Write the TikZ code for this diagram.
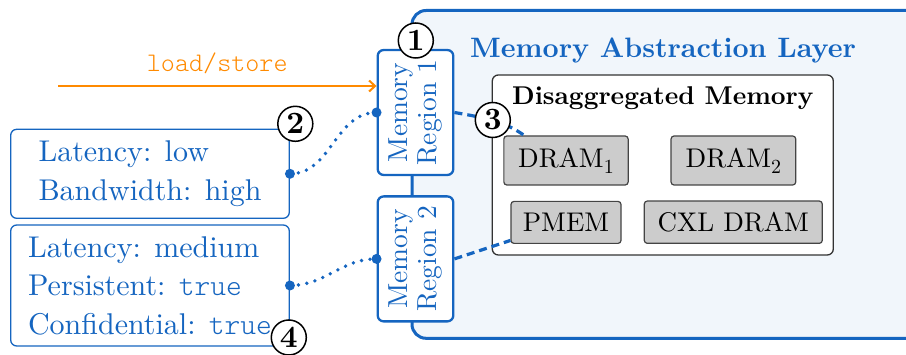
\documentclass[tikz,border=0pt]{standalone}
\usepackage{fontspec}
\setmainfont{lmroman10-regular}[Extension=.otf, BoldFont=lmroman10-bold]
\setmonofont{lmmonolt10-regular}[Extension=.otf]
\usetikzlibrary{arrows.meta,calc}

\definecolor{mablue}{HTML}{1565C0}
\definecolor{layerfill}{HTML}{F1F6FB}
\definecolor{loadorange}{HTML}{FF8A00}
\definecolor{devgray}{HTML}{CCCCCC}
\definecolor{devline}{HTML}{444444}
\definecolor{poolline}{HTML}{333333}

\begin{document}
\begin{tikzpicture}[x=1pt,y=-1pt,
  layer/.style={draw=mablue, line width=3pt, fill=layerfill, rounded corners=14pt},
  region/.style={draw=mablue, line width=2.3pt, fill=white, rounded corners=6pt,
    rotate=90, minimum width=125pt, minimum height=75.6pt, inner sep=0pt,
    align=center, text=mablue, font=\fontsize{27.5}{29}\selectfont},
  attr/.style={draw=mablue, line width=1.3pt, fill=white, rounded corners=6pt,
    minimum width=278.6pt, inner sep=0pt, align=left, text=mablue,
    font=\fontsize{30}{38.5}\selectfont},
  pool/.style={draw=poolline, line width=1.3pt, fill=white, rounded corners=6pt,
    minimum width=341pt, minimum height=180pt, inner sep=0pt},
  dev/.style={draw=devline, line width=1.2pt, fill=devgray, rounded corners=3pt,
    inner sep=0pt, font=\fontsize{27}{27}\selectfont},
  marker/.style={circle, draw=black, line width=1.5pt, fill=white,
    minimum size=35pt, inner sep=0pt, font=\bfseries\fontsize{31}{31}\selectfont},
  label/.style={inner sep=0pt},
  dotlink/.style={draw=mablue, line width=3.8pt, line cap=round,
    dash pattern=on 0pt off 8.5pt},
  dashlink/.style={draw=mablue, line width=3.2pt, dash pattern=on 8pt off 5pt},
  loadarrow/.style={draw=loadorange, line width=2pt,
    -{Straight Barb[length=6pt,width=11pt,line width=2pt]}},
]
\newcommand{\sub}[1]{\raisebox{-6pt}{\fontsize{20}{20}\selectfont #1}}

\clip (0,0) rectangle (906,355);

% memory abstraction layer
\draw[layer] (412,10.5) rectangle (940,338.3);
\node[label, anchor=base west, text=mablue,
      font=\bfseries\fontsize{28.1}{30}\selectfont] (title) at (470,57.5)
      {Memory Abstraction Layer};

% disaggregated memory pool and its devices
\node[pool] (pool) at (662.8,165) {};
\node[label, anchor=base, font=\bfseries\fontsize{25.7}{28}\selectfont]
      (pooltitle) at (662.8,105) {Disaggregated Memory};
\node[dev, minimum width=124.3pt, minimum height=49pt] (dram1) at (566,160.5) {DRAM\sub{1}};
\node[dev, minimum width=124.7pt, minimum height=49pt] (dram2) at (733.4,160.5) {DRAM\sub{2}};
\node[dev, minimum width=110pt, minimum height=42pt] (pmem) at (566,222.4) {PMEM};
\node[dev, minimum width=178pt, minimum height=42.3pt] (cxl) at (733.3,222.2) {CXL DRAM};

% memory regions
\node[region] (reg1) at (415.5,112.5) {Memory\\Region 1};
\node[region] (reg2) at (415.5,258.9) {Memory\\Region 2};

% region attributes
\node[attr, minimum height=89pt] (attr1) at (150,173.8)
      {Latency: low\\Bandwidth: high};
\node[attr, minimum height=121pt] (attr2) at (150,285.5)
      {Latency: medium\\Persistent: \texttt{true}\\Confidential: \texttt{true}};

% attribute links
\draw[dotlink] (attr1.east) to[out=0,in=180] (reg1.north);
\draw[dotlink] (attr2.east) to[out=0,in=180] (reg2.north);
\foreach \p in {attr1.east, reg1.north, attr2.east, reg2.north}
  \fill[mablue] (\p) circle (5pt);

% region to device mappings
\draw[dashlink] (reg1.south) .. controls +(32,5.5) and +(-20,-14) .. (dram1.149);
\draw[dashlink] (reg2.south) -- (pmem.198);

% load/store access
\coordinate (ls) at (58,86);
\draw[loadarrow] (ls) -- (ls -| reg1.north)
  node[midway, anchor=base, yshift=14.3pt, inner sep=0pt, text=loadorange,
       font=\ttfamily\fontsize{26.8}{28}\selectfont] (lslabel) {load/store};

% step markers
\node[marker] (m1) at (415.8,40.5) {1};
\node[marker] (m2) at (295.3,123.8) {2};
\node[marker] (m3) at (492.8,120) {3};
\node[marker] (m4) at (288.8,337.5) {4};
\end{tikzpicture}
\end{document}
